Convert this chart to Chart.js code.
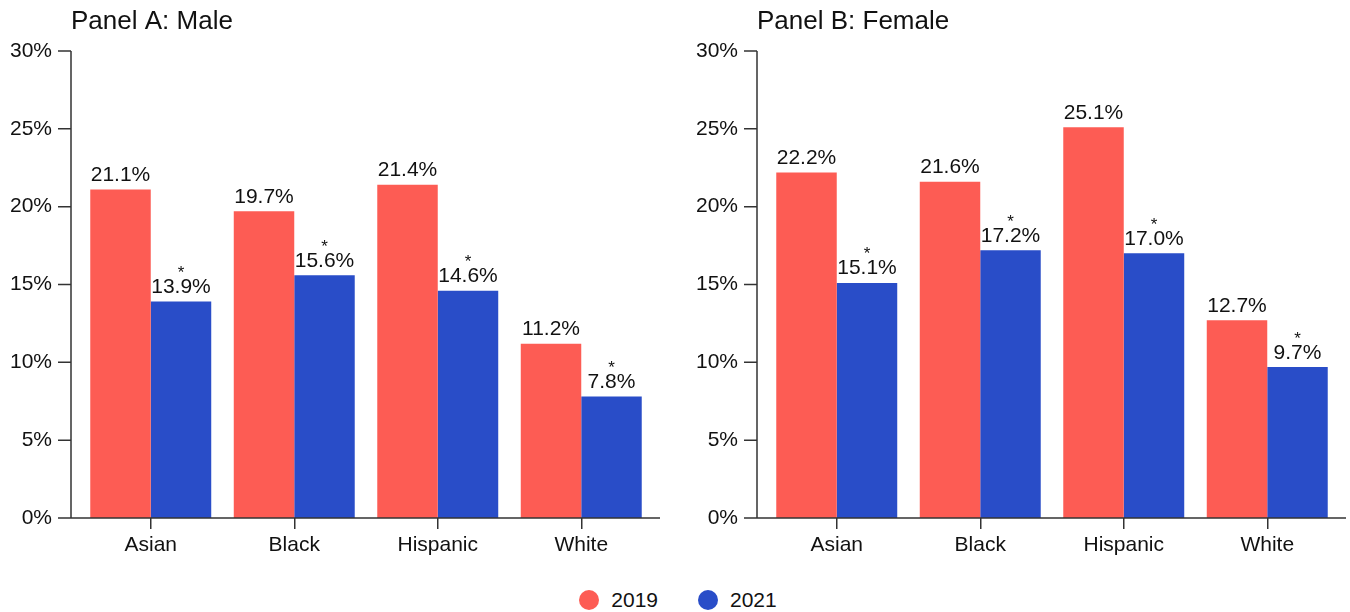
<!DOCTYPE html>
<html>
<head>
<meta charset="utf-8">
<script src="https://cdn.jsdelivr.net/npm/chart.js@4.4.1/dist/chart.umd.min.js"></script>
<style>
  body { margin: 0; background: #fff; width: 1350px; height: 612px; position: relative; overflow: hidden;
         font-family: "Liberation Sans", Arial, sans-serif; }
  canvas { position: absolute; top: 0; }
  #male { left: 0; }
  #female { left: 686px; }
  .legend { position: absolute; top: 588px; left: 0; width: 1350px; box-sizing: border-box; padding-left: 6px;
            display: flex; justify-content: center; gap: 40px; font-size: 21px; line-height: 24px; color: #111; }
  .legend span { display: flex; align-items: center; }
  .legend i { display: inline-block; width: 20px; height: 20px; border-radius: 50%; margin-right: 12px; }
</style>
</head>
<body>
<canvas id="male" width="664" height="570"></canvas>
<canvas id="female" width="664" height="570"></canvas>
<div class="legend" id="legend"></div>
<script>
const categories = ['Asian', 'Black', 'Hispanic', 'White'];
const years = ['2019', '2021'];
const male2019 = [21.1, 19.7, 21.4, 11.2];
const male2021 = [13.9, 15.6, 14.6, 7.8];
const female2019 = [22.2, 21.6, 25.1, 12.7];
const female2021 = [15.1, 17.2, 17.0, 9.7];
// 2021 bars that get an asterisk over the label
const starred2021 = [true, true, true, true];
const yTicks = [0, 5, 10, 15, 20, 25, 30];

const RED = '#fd5c54';
const BLUE = '#294dc8';
const INK = '#111';
const AXIS = '#333';
const FONT = '"Liberation Sans", Arial, sans-serif';

// axis lines sit a little outside the bar area, so draw them by hand
const panelDecor = {
  id: 'panelDecor',
  afterDraw(chart, args, opts) {
    const ctx = chart.ctx;
    const area = chart.chartArea;
    const y = chart.scales.y;
    const axisX = area.left - 8;
    const zero = y.getPixelForValue(0);

    ctx.save();
    ctx.strokeStyle = AXIS;
    ctx.lineWidth = 1.5;
    ctx.beginPath();
    ctx.moveTo(axisX, y.getPixelForValue(yTicks[yTicks.length - 1]));
    ctx.lineTo(axisX, zero);
    ctx.lineTo(area.right + 7, zero);
    yTicks.forEach(v => {
      const py = y.getPixelForValue(v);
      ctx.moveTo(axisX - 13, py);
      ctx.lineTo(axisX, py);
    });
    ctx.stroke();

    ctx.fillStyle = INK;
    ctx.textAlign = 'left';
    ctx.textBaseline = 'alphabetic';
    ctx.font = '26px ' + FONT;
    ctx.fillText(opts.title, axisX, 29);

    ctx.textAlign = 'center';
    chart.data.datasets.forEach((ds, i) => {
      chart.getDatasetMeta(i).data.forEach((bar, j) => {
        const base = bar.y - 8.5;
        ctx.font = '21px ' + FONT;
        ctx.fillText(ds.data[j].toFixed(1) + '%', bar.x, base);
        if (ds.starred && ds.starred[j]) {
          ctx.font = '17px ' + FONT;
          ctx.fillText('*', bar.x, base - 15);
        }
      });
    });
    ctx.restore();
  }
};

function makePanel(id, title, v2019, v2021) {
  return new Chart(document.getElementById(id), {
    type: 'bar',
    data: {
      labels: categories,
      datasets: [
        { label: years[0], data: v2019, backgroundColor: RED,
          categoryPercentage: 0.843, barPercentage: 1 },
        { label: years[1], data: v2021, backgroundColor: BLUE, starred: starred2021,
          categoryPercentage: 0.843, barPercentage: 1 }
      ]
    },
    options: {
      responsive: false,
      animation: false,
      layout: { padding: { top: 51, right: 11, bottom: 0, left: 0 } },
      plugins: {
        legend: { display: false },
        tooltip: { enabled: false },
        panelDecor: { title: title }
      },
      scales: {
        x: {
          afterFit(scale) { scale.height = 52; },
          border: { display: false },
          grid: { display: true, drawOnChartArea: false, offset: false,
                  tickLength: 11, color: AXIS, lineWidth: 1.5 },
          ticks: { color: INK, padding: 4, font: { family: FONT, size: 21 } }
        },
        y: {
          min: 0,
          max: 30,
          afterFit(scale) { scale.width = 79; },
          afterBuildTicks(scale) { scale.ticks = yTicks.map(v => ({ value: v })); },
          border: { display: false },
          grid: { display: false },
          ticks: { color: INK, padding: 19, font: { family: FONT, size: 21 },
                   callback: v => v + '%' }
        }
      }
    },
    plugins: [panelDecor]
  });
}

makePanel('male', 'Panel A: Male', male2019, male2021);
makePanel('female', 'Panel B: Female', female2019, female2021);

// shared legend under both panels
const legend = document.getElementById('legend');
[RED, BLUE].forEach((c, i) => {
  const item = document.createElement('span');
  item.innerHTML = '<i style="background:' + c + '"></i>' + years[i];
  legend.appendChild(item);
});
</script>
</body>
</html>
